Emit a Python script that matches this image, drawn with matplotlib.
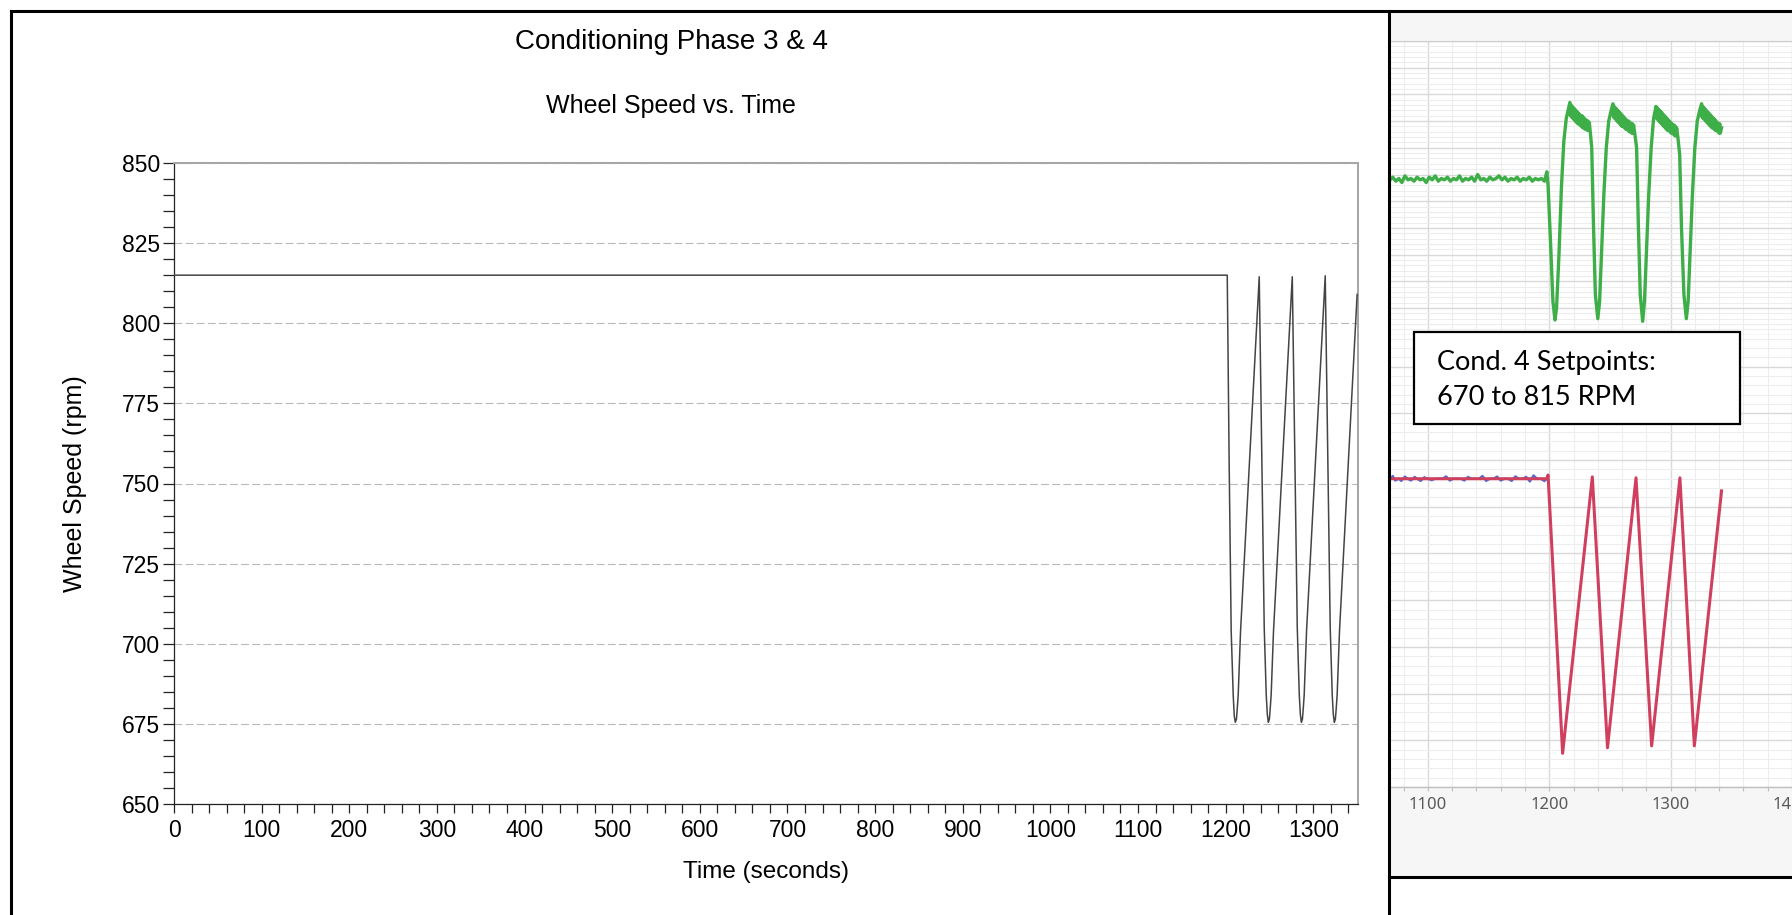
import matplotlib
matplotlib.use("Agg")
import matplotlib.pyplot as plt
from matplotlib.lines import Line2D
from matplotlib.patches import Rectangle
from matplotlib.ticker import MultipleLocator, NullFormatter

plt.rcParams["font.family"] = ["Liberation Sans", "DejaVu Sans"]

# ---------------- data ----------------
# Phase 3 & 4 wheel speed (rpm) vs time (s)
speed_time = [0, 1201.8, 1204, 1206.3, 1208.6, 1209.8, 1211, 1212.3, 1213.3, 1214.3, 1217,
              1238.3, 1241.3, 1244, 1246.3, 1247.5, 1248.7, 1249.9, 1250.9, 1251.9, 1254.6,
              1276, 1279, 1281.7, 1284, 1285.2, 1286.4, 1287.6, 1288.6, 1289.6, 1292.3,
              1313.6, 1316.6, 1319.3, 1321.6, 1322.8, 1324, 1325.2, 1326.2, 1327.2, 1329.9,
              1350]
speed_rpm = [815, 815, 756, 704, 684, 677.5, 675.5, 676.5, 680, 684, 704,
             814.5, 757, 705, 684, 678, 675.5, 676.5, 680, 684, 704,
             814.5, 757, 705, 684, 678, 675.5, 676.5, 680, 684, 704,
             814.8, 757, 705, 684, 678, 675.5, 676.5, 680, 684, 704,
             809]

x_ticks = [0, 100, 200, 300, 400, 500, 600, 700, 800, 900, 1000, 1100, 1200, 1300]
y_ticks = [650, 675, 700, 725, 750, 775, 800, 825, 850]

# Cond. 4 detail: commanded speed (red), measured speed (blue) and load (green)
cmd_time = [1068.7, 1198, 1199, 1211, 1235.5, 1248, 1271.5, 1284.4, 1307.7, 1319.6, 1342]
cmd_rpm = [815, 815, 817, 668, 816, 671, 815.5, 672, 815.5, 672, 808.5]

meas_time = [1068.7, 1071, 1073, 1076, 1078, 1081, 1083, 1086, 1089, 1091, 1094, 1097,
             1100, 1103, 1106, 1109, 1112, 1115, 1118, 1121, 1124, 1127, 1130, 1133,
             1136, 1139, 1142, 1145, 1148, 1151, 1154, 1157, 1160, 1163, 1166, 1169,
             1172, 1175, 1178, 1181, 1184, 1187, 1190, 1193, 1196, 1198]
meas_rpm = [815, 816.5, 814, 815, 813.8, 816.2, 815, 814, 816, 815, 813.8, 815.8,
            815, 814.2, 815, 815, 815, 816.3, 814, 815, 815, 815, 814, 816,
            815, 815, 815, 816.5, 813.8, 815, 815, 816.2, 814, 815, 815, 813.8,
            816.3, 815, 815, 816, 813.5, 816.8, 815, 815, 813.7, 815]

load_time = [1068.7, 1071, 1073.5, 1076, 1078.5, 1081, 1083.5, 1086, 1088.5, 1091, 1093.5,
             1096, 1098.5, 1101, 1103.5, 1106, 1108.5, 1111, 1113.5, 1116, 1118.5, 1121,
             1123.5, 1126, 1128.5, 1131, 1133.5, 1136, 1138.5, 1141, 1143.5, 1146, 1148.5,
             1151, 1153.5, 1156, 1158.5, 1161, 1163.5, 1166, 1168.5, 1171, 1173.5, 1176,
             1178.5, 1181, 1183.5, 1186, 1188.5, 1191, 1193.5, 1196, 1198,
             1199, 1201, 1203, 1204.7, 1206, 1208, 1210, 1212, 1214, 1216, 1217,
             1217.5, 1218, 1218.5, 1219, 1219.5, 1220, 1220.5, 1221, 1221.5, 1222, 1222.5,
             1223, 1223.5, 1224, 1224.5, 1225, 1225.5, 1226, 1226.5, 1227, 1227.5, 1228,
             1228.5, 1229, 1229.5, 1230, 1230.5, 1231, 1231.5, 1232, 1232.5, 1233, 1234,
             1235, 1236.5, 1238, 1240, 1241.5, 1243, 1245, 1247, 1249, 1251, 1252.5,
             1253, 1253.5, 1254, 1254.5, 1255, 1255.5, 1256, 1256.5, 1257, 1257.5, 1258,
             1258.5, 1259, 1259.5, 1260, 1260.5, 1261, 1261.5, 1262, 1262.5, 1263, 1263.5,
             1264, 1264.5, 1265, 1265.5, 1266, 1266.5, 1267, 1267.5, 1268, 1268.5, 1269,
             1269.5, 1270.6,
             1272, 1273.5, 1275, 1277, 1278.5, 1280, 1282, 1284, 1286, 1288,
             1288.5, 1289, 1289.5, 1290, 1290.5, 1291, 1291.5, 1292, 1292.5, 1293, 1293.5,
             1294, 1294.5, 1295, 1295.5, 1296, 1296.5, 1297, 1297.5, 1298, 1298.5, 1299,
             1299.5, 1300, 1300.5, 1301, 1301.5, 1302, 1302.5, 1303, 1303.5, 1304, 1304.5,
             1305, 1306,
             1307.5, 1309, 1311, 1313, 1314.5, 1316, 1318, 1320, 1322, 1324, 1325.6,
             1326, 1326.5, 1327, 1327.5, 1328, 1328.5, 1329, 1329.5, 1330, 1330.5, 1331,
             1331.5, 1332, 1332.5, 1333, 1333.5, 1334, 1334.5, 1335, 1335.5, 1336, 1336.5,
             1337, 1337.5, 1338, 1338.5, 1339, 1339.5, 1340, 1340.5, 1341, 1342]
load_val = [116, 118, 115, 117, 114, 119, 116, 117, 115, 118, 116,
            117, 114, 118, 116, 119, 115, 117, 116, 118, 115, 117,
            116, 119, 115, 117, 116, 118, 115, 120, 116, 117, 115,
            118, 116, 117, 119, 116, 118, 115, 117, 116, 118, 115,
            117, 116, 118, 115, 117, 116, 117, 115, 122,
            112, 70, 25, 11, 20, 60, 110, 145, 162, 170, 174,
            164, 172, 163, 171, 162, 170, 161, 169, 160, 168, 159,
            167, 158, 166, 158, 165, 157, 164, 156, 164, 155, 163,
            155, 162, 154, 161, 154, 160, 153, 160, 153, 159, 150,
            140, 80, 30, 12, 25, 60, 105, 140, 160, 168, 173,
            163, 171, 162, 170, 161, 169, 160, 168, 159, 167, 158,
            166, 157, 165, 156, 164, 156, 163, 155, 162, 154, 161,
            154, 160, 153, 160, 152, 159, 152, 158, 151, 158, 151,
            157, 150,
            140, 80, 30, 10, 25, 60, 105, 140, 162, 171,
            162, 170, 161, 169, 160, 168, 159, 167, 158, 166, 157,
            165, 156, 164, 155, 163, 154, 162, 153, 161, 153, 160,
            152, 159, 151, 158, 151, 157, 150, 157, 149, 156, 149,
            155, 148,
            135, 80, 30, 12, 25, 60, 105, 140, 160, 168, 173,
            163, 171, 162, 170, 161, 169, 160, 168, 159, 167, 158,
            166, 157, 165, 156, 164, 155, 163, 155, 162, 154, 161,
            153, 160, 153, 159, 152, 158, 151, 158, 151, 155]

detail_ticks = [1100, 1200, 1300, 1400]

# ---------------- figure ----------------
W, H = 1792, 915
fig = plt.figure(figsize=(W / 100, H / 100), dpi=100)
fig.patch.set_facecolor("white")


def rect(left, top, right, bottom):
    return [left / W, 1 - bottom / H, (right - left) / W, (bottom - top) / H]


# ---- left: full-run chart ----
ax = fig.add_axes(rect(174, 163, 1358, 804))
ax.plot(speed_time, speed_rpm, color="#444444", lw=1.1, zorder=3)
ax.set_xlim(0, 1351)
ax.set_ylim(650, 850)
ax.set_xticks(x_ticks)
ax.set_yticks(y_ticks)
ax.xaxis.set_minor_locator(MultipleLocator(20))
ax.yaxis.set_minor_locator(MultipleLocator(5))
ax.tick_params(axis="both", which="both", direction="out", color="#222222", width=0.9)
ax.tick_params(axis="x", which="both", length=6.5, labelsize=16.5, pad=4)
ax.tick_params(axis="y", which="both", length=8, labelsize=16.5, pad=2)
ax.yaxis.grid(True, which="major", color="#b8b8b8", lw=0.8, ls=(0, (7, 3)))
ax.set_axisbelow(True)
for side in ("left", "bottom"):
    ax.spines[side].set_color("#222222")
    ax.spines[side].set_linewidth(0.9)
for side in ("top", "right"):
    ax.spines[side].set_color("#a5a5a5")
    ax.spines[side].set_linewidth(1.4)
ax.set_xlabel("Time (seconds)", fontsize=17.5, labelpad=14)
ax.set_ylabel("Wheel Speed (rpm)", fontsize=18, labelpad=25)

fig.text(671 / W, 1 - 42 / H, "Conditioning Phase 3 & 4", ha="center", va="center", fontsize=20)
fig.text(671 / W, 1 - 106 / H, "Wheel Speed vs. Time", ha="center", va="center", fontsize=18)

# ---- right: Cond. 4 detail ----
bg = fig.add_axes(rect(1389, 11, 1792, 877))
bg.set_facecolor("#f6f6f6")
bg.set_xticks([])
bg.set_yticks([])
for s in bg.spines.values():
    s.set_visible(False)
bg.set_zorder(0)

grid_major = dict(color="#d9d9d9", lw=1.0)
grid_minor = dict(color="#ededed", lw=0.8)

ax_top = fig.add_axes(rect(1390, 41, 1792, 334.7))
ax_bot = fig.add_axes(rect(1390, 334.7, 1792, 787))
for a in (ax_top, ax_bot):
    a.set_zorder(1)
    a.set_facecolor("white")
    a.set_xlim(1068.7, 1400.1)
    a.xaxis.set_major_locator(MultipleLocator(100))
    a.xaxis.set_minor_locator(MultipleLocator(20))
    a.grid(True, which="major", **grid_major)
    a.grid(True, which="minor", **grid_minor)
    a.set_axisbelow(True)
    for s in a.spines.values():
        s.set_visible(False)

ax_top.set_ylim(0, 220)
ax_top.yaxis.set_major_locator(MultipleLocator(20))
ax_top.yaxis.set_minor_locator(MultipleLocator(4))
ax_top.tick_params(which="both", length=0, labelbottom=False, labelleft=False)
ax_top.spines["top"].set_visible(True)
ax_top.spines["top"].set_color("#cccccc")
ax_top.plot(load_time, load_val, color="#3dae48", lw=2.4, clip_on=False, zorder=4)

ax_bot.set_ylim(650, 892.1)
ax_bot.yaxis.set_major_locator(MultipleLocator(25))
ax_bot.yaxis.set_minor_locator(MultipleLocator(5))
ax_bot.set_xticks(detail_ticks)
ax_bot.xaxis.set_minor_formatter(NullFormatter())
ax_bot.tick_params(axis="y", which="both", length=0, labelleft=False)
ax_bot.tick_params(axis="x", which="both", direction="out", length=3, width=0.8,
                   color="#bfbfbf", labelsize=12, labelcolor="#595959", pad=4)
for lab in ax_bot.get_xticklabels():
    lab.set_fontfamily(["Noto Sans", "DejaVu Sans"])
ax_bot.spines["bottom"].set_visible(True)
ax_bot.spines["bottom"].set_color("#bfbfbf")
ax_bot.spines["bottom"].set_linewidth(1.0)
ax_bot.plot(meas_time, meas_rpm, color="#4a6fd0", lw=1.6, zorder=3)
ax_bot.plot(cmd_time, cmd_rpm, color="#d13f5e", lw=2.2, zorder=4)

# annotation box
fig.add_artist(Rectangle((1414 / W, 1 - 424 / H), 326 / W, 92 / H, transform=fig.transFigure,
                         facecolor="white", edgecolor="black", lw=1.6, zorder=10))
box_font = ["Lato", "DejaVu Sans"]
fig.text(1437 / W, 1 - 370 / H, "Cond. 4 Setpoints:", ha="left", va="baseline",
         fontsize=19.5, family=box_font, zorder=11)
fig.text(1437 / W, 1 - 405 / H, "670 to 815 RPM", ha="left", va="baseline",
         fontsize=19.5, family=box_font, zorder=11)

# slide frame lines
frame_lw = 2.2
for (x0, y0, x1, y1) in [(11, 11, 1792, 11), (11, 11, 11, 915),
                         (1389, 11, 1389, 915), (1389, 877, 1792, 877)]:
    fig.add_artist(Line2D([x0 / W, x1 / W], [1 - y0 / H, 1 - y1 / H], transform=fig.transFigure,
                          color="black", lw=frame_lw, zorder=20, solid_capstyle="projecting"))

fig.savefig("out.png", dpi=100, facecolor="white")
